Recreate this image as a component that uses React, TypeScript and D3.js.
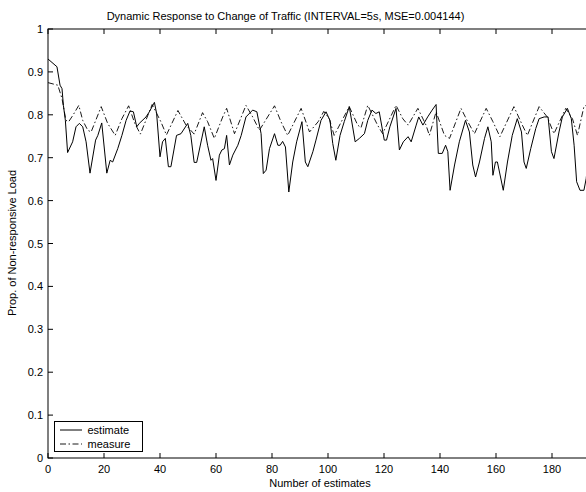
import React from "react";
import * as d3 from "d3";

const estimateX = [0, 3.2, 4.3, 5, 5.5, 6.2, 7, 8.8, 10, 11.2, 12.4, 13.6, 15, 17, 17.8, 19.2, 21, 22.2, 23.1, 24.9, 26.4, 27.9, 29.3, 30.5, 31.7, 32.6, 35, 36.2, 38, 38.8, 40, 40.9, 41.9, 43, 43.9, 45.9, 47.5, 49.9, 51, 52.2, 53.1, 55.8, 57, 58.2, 58.8, 60, 61.2, 62.1, 63, 63.8, 64.8, 66, 67.8, 69, 70.7, 73.1, 74.6, 76.1, 76.9, 77.9, 79.1, 80.9, 82.1, 82.9, 83.8, 84.8, 86, 87.4, 88.8, 90.7, 91.9, 92.8, 94.6, 95.7, 97.5, 99.3, 100.7, 101.7, 102.8, 104.3, 105.8, 107.6, 109.7, 111.2, 113, 114.2, 115.7, 117.1, 118.3, 120.1, 120.9, 122.1, 124.3, 125.5, 126.9, 128.6, 129.7, 131.5, 132.4, 133.9, 135.6, 137.2, 138.6, 139.4, 140.8, 142, 142.8, 143.6, 145.2, 146.9, 149.1, 150.5, 151.7, 152.7, 154.1, 155.9, 157.1, 158.3, 158.9, 159.8, 160.5, 162.6, 164.1, 165.8, 167.6, 169.1, 170, 170.8, 172.4, 174.2, 175.4, 177.2, 178.6, 179.8, 180.7, 182.5, 183.7, 185.5, 186.9, 187.9, 188.8, 190, 191.4, 192.2, 194];
const estimateY = [0.93, 0.912, 0.869, 0.861, 0.822, 0.787, 0.712, 0.737, 0.772, 0.78, 0.772, 0.737, 0.664, 0.741, 0.752, 0.781, 0.664, 0.694, 0.69, 0.721, 0.752, 0.787, 0.809, 0.807, 0.772, 0.78, 0.795, 0.807, 0.829, 0.803, 0.702, 0.737, 0.745, 0.679, 0.679, 0.752, 0.756, 0.78, 0.752, 0.689, 0.689, 0.772, 0.729, 0.694, 0.698, 0.647, 0.706, 0.718, 0.721, 0.752, 0.683, 0.706, 0.729, 0.752, 0.795, 0.811, 0.807, 0.756, 0.663, 0.671, 0.721, 0.756, 0.729, 0.729, 0.738, 0.725, 0.62, 0.69, 0.737, 0.784, 0.69, 0.679, 0.714, 0.741, 0.787, 0.807, 0.787, 0.733, 0.694, 0.752, 0.784, 0.819, 0.737, 0.745, 0.756, 0.787, 0.811, 0.803, 0.807, 0.741, 0.741, 0.772, 0.815, 0.718, 0.737, 0.749, 0.737, 0.776, 0.795, 0.776, 0.795, 0.811, 0.824, 0.71, 0.71, 0.729, 0.714, 0.624, 0.683, 0.737, 0.787, 0.76, 0.683, 0.655, 0.69, 0.745, 0.772, 0.737, 0.659, 0.69, 0.69, 0.624, 0.69, 0.752, 0.791, 0.76, 0.69, 0.675, 0.721, 0.768, 0.791, 0.795, 0.795, 0.714, 0.698, 0.76, 0.795, 0.815, 0.791, 0.729, 0.644, 0.624, 0.624, 0.651, 0.76];

const measureX = [0, 3.5, 5, 6.4, 7.4, 9, 11, 12.4, 14.2, 15.4, 19, 21.3, 24, 26.4, 28.8, 31, 33, 37.2, 40.3, 42.3, 46.4, 49.3, 52.2, 55.2, 57, 59.4, 62.4, 63.8, 66.6, 70.7, 73.1, 75.5, 80.9, 83.2, 85.6, 90.4, 93.4, 96.5, 98.5, 100.5, 102.2, 107.6, 110.6, 111.8, 114.2, 117.7, 119.5, 124.3, 126.7, 128.6, 132.1, 135, 136.2, 138.6, 141.6, 143.4, 147.5, 149.9, 152.3, 156.5, 158.9, 161.4, 166.4, 169.4, 171.2, 175.4, 178.3, 180.7, 184.9, 187.3, 189.1, 191.4, 194];
const measureY = [0.875, 0.869, 0.838, 0.787, 0.784, 0.8, 0.822, 0.787, 0.764, 0.76, 0.819, 0.78, 0.752, 0.791, 0.821, 0.78, 0.755, 0.824, 0.784, 0.753, 0.81, 0.776, 0.755, 0.805, 0.784, 0.745, 0.795, 0.815, 0.756, 0.822, 0.795, 0.764, 0.821, 0.784, 0.752, 0.815, 0.76, 0.784, 0.808, 0.79, 0.752, 0.819, 0.776, 0.77, 0.822, 0.776, 0.756, 0.822, 0.791, 0.776, 0.815, 0.776, 0.752, 0.807, 0.752, 0.745, 0.815, 0.784, 0.756, 0.815, 0.784, 0.749, 0.819, 0.776, 0.752, 0.819, 0.795, 0.756, 0.815, 0.791, 0.752, 0.819, 0.83];

const xTicks = [0, 20, 40, 60, 80, 100, 120, 140, 160, 180];
const yTicks = [0, 0.1, 0.2, 0.3, 0.4, 0.5, 0.6, 0.7, 0.8, 0.9, 1];
const yTickLabels = ["0", "0.1", "0.2", "0.3", "0.4", "0.5", "0.6", "0.7", "0.8", "0.9", "1"];
const seriesNames = ["estimate", "measure"];
const titleText = "Dynamic Response to Change of Traffic (INTERVAL=5s, MSE=0.004144)";
const xLabel = "Number of estimates";
const yLabel = "Prop. of Non-responsive Load";

export default function App() {
  const W = 586, H = 492;
  const left = 48, right = 608, top = 29, bottom = 458;
  const x = d3.scaleLinear().domain([0, 200]).range([left, right]);
  const y = d3.scaleLinear().domain([0, 1]).range([bottom, top]);
  const line = d3.line<[number, number]>().x(d => x(d[0])).y(d => y(d[1]));
  const est = line(estimateX.map((v, i) => [v, estimateY[i]] as [number, number])) || "";
  const mea = line(measureX.map((v, i) => [v, measureY[i]] as [number, number])) || "";
  const font = "'Liberation Sans', Arial, Helvetica, sans-serif";
  const tl = 5;
  const dash = "6,2.5,1.5,2.5";
  return (
    <svg width={W} height={H} style={{ position: "absolute", left: 0, top: 0, background: "#fff" }} fontFamily={font}>
      <rect x={0} y={0} width={W} height={H} fill="#fff" />
      <text x={285.5} y={20} fontSize={11} textAnchor="middle">{titleText}</text>
      <path d={mea} fill="none" stroke="#000" strokeWidth={0.9} strokeDasharray={dash} />
      <path d={est} fill="none" stroke="#000" strokeWidth={1} />
      <rect x={left} y={top} width={right - left} height={bottom - top} fill="none" stroke="#000" strokeWidth={1} />
      {xTicks.map(t => (
        <g key={"x" + t}>
          <line x1={x(t)} x2={x(t)} y1={bottom} y2={bottom - tl} stroke="#000" />
          <line x1={x(t)} x2={x(t)} y1={top} y2={top + tl} stroke="#000" />
          <text x={x(t)} y={473} fontSize={11} textAnchor="middle">{t}</text>
        </g>
      ))}
      {yTicks.map((t, i) => (
        <g key={"y" + t}>
          <line x1={left} x2={left + tl} y1={y(t)} y2={y(t)} stroke="#000" />
          <text x={43} y={y(t) + 4} fontSize={11} textAnchor="end">{yTickLabels[i]}</text>
        </g>
      ))}
      <text x={320} y={487} fontSize={11} textAnchor="middle">{xLabel}</text>
      <text transform={`translate(16,243) rotate(-90)`} fontSize={11} textAnchor="middle">{yLabel}</text>
      <g>
        <rect x={54.5} y={421.5} width={88} height={30} fill="#fff" stroke="#000" strokeWidth={1} />
        <line x1={60} x2={82} y1={430} y2={430} stroke="#000" strokeWidth={1} />
        <line x1={60} x2={82} y1={444} y2={444} stroke="#000" strokeWidth={0.9} strokeDasharray={dash} />
        <text x={87.5} y={434} fontSize={11}>{seriesNames[0]}</text>
        <text x={87.5} y={448} fontSize={11}>{seriesNames[1]}</text>
      </g>
    </svg>
  );
}
